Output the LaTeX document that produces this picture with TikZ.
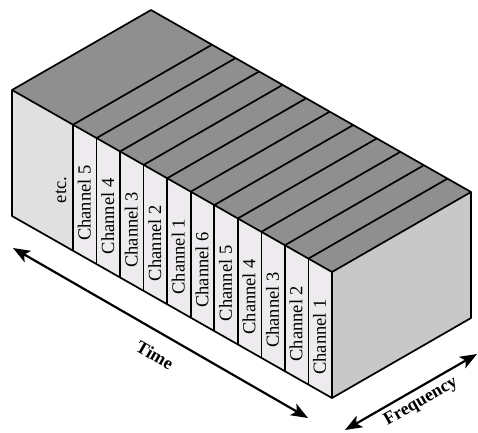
\documentclass[tikz,border=0pt]{standalone}
\usepackage{fontspec}
\setmainfont{Liberation Serif}
\usetikzlibrary{arrows.meta,calc}
\definecolor{topgray}{HTML}{8F8F8F}
\definecolor{rightgray}{HTML}{C8C8C8}
\definecolor{leftgray}{HTML}{E0E0E0}
\definecolor{slicegray}{HTML}{EDEBEE}
\tikzset{
  edge/.style={line width=1.7pt, line join=round},
  chlabel/.style={rotate=90, font=\fontsize{18.5}{20}\selectfont, inner sep=0pt},
  axislabel/.style={font=\bfseries\fontsize{18}{20}\selectfont, inner sep=0pt},
  axisarrow/.style={line width=2.2pt, {Stealth[length=17pt,width=13pt,inset=4pt]}-{Stealth[length=17pt,width=13pt,inset=4pt]}}
}
\begin{document}
\begin{tikzpicture}[x=1pt,y=-1pt]
\useasboundingbox (0,0) rectangle (478,432);
% main corners
\coordinate (FTL) at (12,90);
\coordinate (FBL) at (12,216);
\coordinate (FTR) at (332,272);
\coordinate (FBR) at (332,398);
\coordinate (BTL) at (151,10);
\coordinate (BTR) at (471,192);
\coordinate (BBR) at (471,318);
\coordinate (E0) at (73,124.7);
\coordinate (E0b) at (73,250.7);
% faces
\fill[topgray] (FTL) -- (BTL) -- (BTR) -- (FTR) -- cycle;
\fill[rightgray] (FTR) -- (BTR) -- (BBR) -- (FBR) -- cycle;
\fill[leftgray] (FTL) -- (E0) -- (E0b) -- (FBL) -- cycle;
\fill[slicegray] (E0) -- (FTR) -- (FBR) -- (E0b) -- cycle;
% slice divisions
\foreach \k in {0,...,10}{
  \pgfmathsetmacro{\xa}{73+23.545*\k}
  \pgfmathsetmacro{\ya}{90+(\xa-12)*0.56875}
  \draw[edge] (\xa,\ya) -- ++(0,126);
  \draw[edge] (\xa,\ya) -- ++(139,-80);
}
% labels
\foreach \k/\t in {0/5,1/4,2/3,3/2,4/1,5/6,6/5,7/4,8/3,9/2,10/1}{
  \pgfmathsetmacro{\xc}{73+23.545*\k+11.2}
  \pgfmathsetmacro{\yc}{90+(\xc-12)*0.56875+72}
  \node[chlabel] (ch\k) at (\xc,\yc) {Channel \t};
}
\node[chlabel] (etc) at (61,190) {etc.};
% outline
\draw[edge] (FTL) -- (BTL) -- (BTR) -- (BBR) -- (FBR) -- (FBL) -- cycle;
\draw[edge] (FTL) -- (FTR) -- (BTR);
\draw[edge] (FTR) -- (FBR);
% axes
\coordinate (T1) at (13,248);
\coordinate (T2) at (308,418);
\coordinate (F1) at (345,430);
\coordinate (F2) at (477,354);
\draw[axisarrow] (T1) -- (T2);
\draw[axisarrow] (F1) -- (F2);
\node[axislabel, rotate=-30] (time) at (155,355) {Time};
\node[axislabel, rotate=30] (freq) at (421,402) {Frequency};
\end{tikzpicture}
\end{document}
